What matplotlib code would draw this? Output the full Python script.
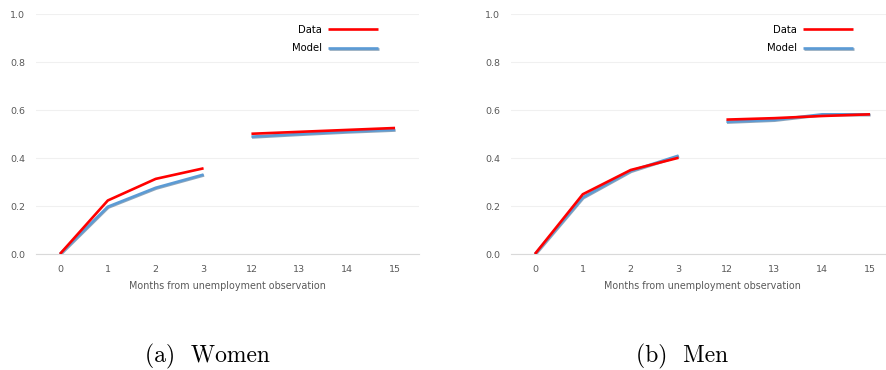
import matplotlib
matplotlib.use("Agg")
import matplotlib.pyplot as plt
import matplotlib.patheffects as pe

months = ["0", "1", "2", "3", "12", "13", "14", "15"]

women_data = [0.0, 0.223, 0.313, 0.357, 0.501, 0.509, 0.517, 0.525]
women_model = [0.0, 0.197, 0.276, 0.331, 0.489, 0.500, 0.510, 0.518]

men_data = [0.0, 0.249, 0.350, 0.401, 0.560, 0.566, 0.575, 0.582]
men_model = [0.0, 0.236, 0.346, 0.410, 0.551, 0.559, 0.582, 0.582]

captions = ["(a)  Women", "(b)  Men"]

RED = "#FF0000"
BLUE = "#5B9BD5"
GRAY = "#595959"


def draw_panel(ax, data, model):
    x = list(range(len(months)))
    shadow = [pe.SimpleLineShadow(offset=(0.4, -0.6), shadow_color="#1F4E79", alpha=0.5), pe.Normal()]
    # two separate pieces: months 0-3 and 12-15
    for lo, hi in [(0, 4), (4, 8)]:
        ax.plot(x[lo:hi], model[lo:hi], color=BLUE, lw=1.9, solid_capstyle="butt",
                path_effects=shadow, label="Model" if lo == 0 else None, zorder=3)
        ax.plot(x[lo:hi], data[lo:hi], color=RED, lw=1.9, solid_capstyle="butt",
                label="Data" if lo == 0 else None, zorder=4)

    ax.set_xlim(-0.5, 7.5)
    ax.set_ylim(0, 1.0)
    ax.set_xticks(x)
    ax.set_xticklabels(months)
    ax.set_yticks([0.0, 0.2, 0.4, 0.6, 0.8, 1.0])
    ax.set_yticklabels(["0.0", "0.2", "0.4", "0.6", "0.8", "1.0"])
    ax.tick_params(length=0, labelsize=6.8, colors=GRAY)
    ax.tick_params(axis="y", pad=8)
    ax.tick_params(axis="x", pad=8)
    ax.grid(axis="y", color="#F0F0F0", lw=0.8)
    ax.set_axisbelow(True)
    for s in ["top", "right", "left"]:
        ax.spines[s].set_visible(False)
    ax.spines["bottom"].set_color("#D9D9D9")
    ax.spines["bottom"].set_linewidth(0.8)
    ax.set_xlabel("Months from unemployment observation", fontsize=6.9, color=GRAY, labelpad=5)

    handles, labels = ax.get_legend_handles_labels()
    order = [labels.index("Data"), labels.index("Model")]
    ax.legend([handles[i] for i in order], [labels[i] for i in order],
              loc="upper right", bbox_to_anchor=(0.893, 0.955), frameon=False,
              markerfirst=False, handlelength=5.0, handletextpad=0.6,
              labelspacing=0.85, fontsize=7.2, borderpad=0, borderaxespad=0)


fig = plt.figure(figsize=(8.86, 3.70), dpi=100)
ax1 = fig.add_axes([36 / 886, 1 - 254 / 370, 383 / 886, 240 / 370])
ax2 = fig.add_axes([511 / 886, 1 - 254 / 370, 383 / 886, 240 / 370])

draw_panel(ax1, women_data, women_model)
draw_panel(ax2, men_data, men_model)

fig.text(207.5 / 886, 1 - 362 / 370, captions[0], ha="center", va="baseline",
         fontsize=17, family="cmr10")
fig.text(682.5 / 886, 1 - 362 / 370, captions[1], ha="center", va="baseline",
         fontsize=17, family="cmr10")

fig.savefig("out.png", dpi=100)
